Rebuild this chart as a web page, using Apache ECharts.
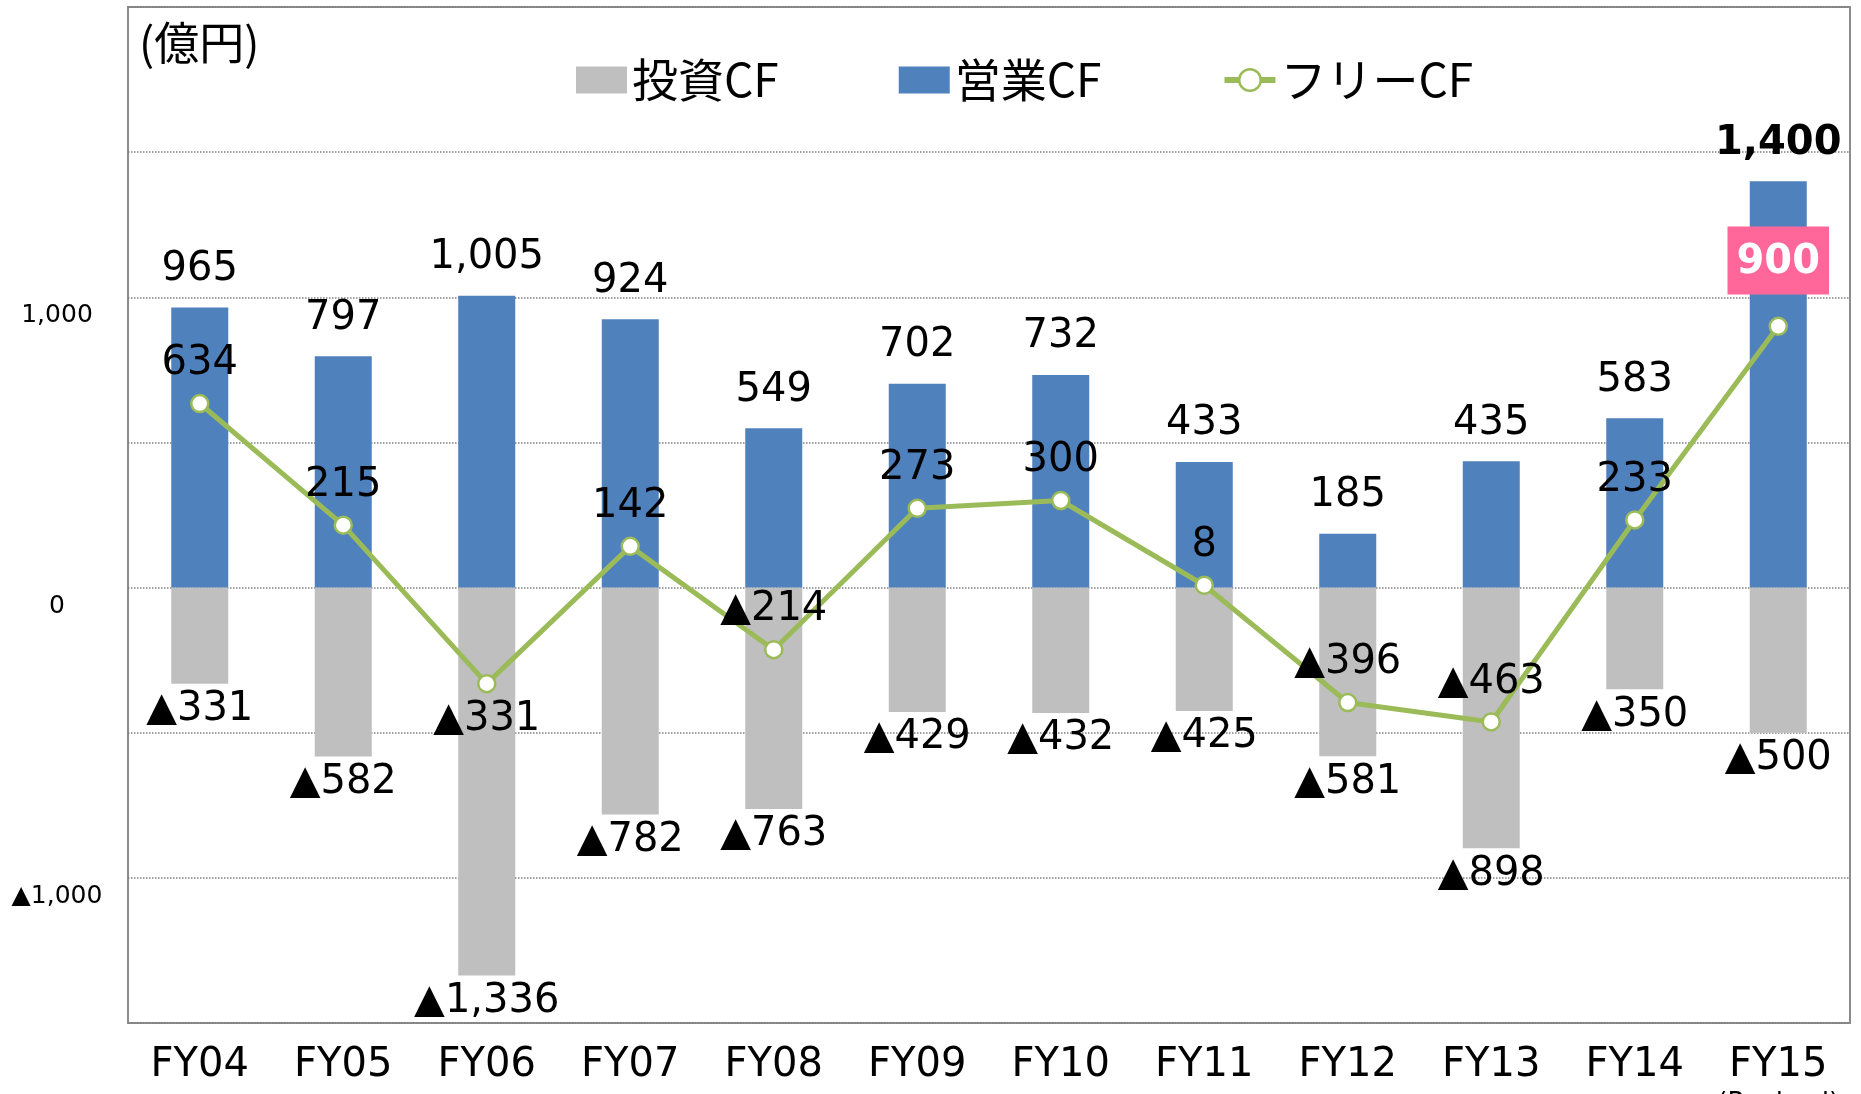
<!DOCTYPE html>
<html>
<head>
<meta charset="utf-8">
<title>キャッシュフロー推移</title>
<script src="https://cdn.jsdelivr.net/npm/echarts@6/dist/echarts.min.js"></script>
<style>
  html, body { margin: 0; padding: 0; background: #fff; }
  #main { width: 1861px; height: 1094px; }
</style>
</head>
<body>
<div id="main"></div>
<script>
// 年度
const categories = ['FY04', 'FY05', 'FY06', 'FY07', 'FY08', 'FY09', 'FY10', 'FY11', 'FY12', 'FY13', 'FY14', 'FY15']
// 営業CF（億円）
const operatingCF = [965, 797, 1005, 924, 549, 702, 732, 433, 185, 435, 583, 1400]
// 投資CF（億円）
const investingCF = [-331, -582, -1336, -782, -763, -429, -432, -425, -581, -898, -350, -500]
// フリーCF（億円）
const freeCF = [634, 215, -331, 142, -214, 273, 300, 8, -396, -463, 233, 900]
// 目盛ラベルを出す値
const yTicks = [-1000, 0, 1000]

const numFont = "'DejaVu Sans', 'Noto Sans CJK JP', sans-serif"
const jpFont = "'Noto Sans CJK JP', 'DejaVu Sans', sans-serif"

// マイナスは▲表記
const fmt = v => (v < 0 ? '▲' : '') + Math.abs(v).toLocaleString('en-US')

const last = categories.length - 1

// 営業CF：最終年度だけ太字
const operatingData = operatingCF.map((v, i) =>
  i === last ? { value: v, label: { fontWeight: 'bold' } } : v
)

// フリーCF：FY06は点の下、FY15はピンクの箱
const freeData = freeCF.map((v, i) => {
  if (i === 2) return { value: v, label: { position: 'bottom', distance: 6 } }
  if (i === last) {
    return {
      value: v,
      label: {
        color: '#fff', fontWeight: 'bold', backgroundColor: '#FF6699',
        padding: [16, 9, 12, 9], distance: 22
      }
    }
  }
  return v
})

const myChart = echarts.init(document.getElementById('main'))

const option = {
  animation: false,
  textStyle: { fontFamily: numFont },
  title: {
    text: '(億円)',
    left: 134,
    top: 15,
    textStyle: { fontFamily: jpFont, fontSize: 45, fontWeight: 'normal', color: '#000' }
  },
  legend: {
    left: 571,
    top: 52,
    itemWidth: 51,
    itemHeight: 27,
    itemGap: 120,
    textStyle: { fontFamily: jpFont, fontSize: 46, color: '#000' },
    data: [
      { name: '投資CF', icon: 'rect' },
      { name: '営業CF', icon: 'rect' },
      {
        name: 'フリーCF',
        lineStyle: { width: 6, color: '#9BBB59' },
        itemStyle: { color: '#fff', borderColor: '#9BBB59', borderWidth: 2.5 }
      }
    ]
  },
  grid: {
    left: 128,
    right: 11,
    top: 7,
    bottom: 71,
    outerBoundsMode: 'none',
    containLabel: false,
    show: true,
    borderColor: '#8c8c8c',
    borderWidth: 2
  },
  xAxis: {
    type: 'category',
    data: categories,
    axisLine: { show: false },
    axisTick: { show: false },
    axisLabel: {
      interval: 0,
      margin: 20,
      fontSize: 40,
      color: '#000',
      formatter: (v, i) => i === last ? '{a|' + v + '}\n{b|(Revised)}' : '{a|' + v + '}',
      rich: {
        a: { fontSize: 40, lineHeight: 46, color: '#000', fontFamily: numFont },
        b: { fontSize: 26, lineHeight: 30, color: '#000', fontFamily: numFont }
      }
    }
  },
  yAxis: {
    type: 'value',
    min: -1500,
    max: 2000,
    interval: 500,
    axisLine: { show: false },
    axisTick: { show: false },
    splitLine: { lineStyle: { type: 'dotted', color: '#808080', width: 1.5 } },
    axisLabel: {
      fontSize: 25,
      color: '#000',
      align: 'center',
      margin: 71,
      verticalAlign: 'top',
      padding: [6, 0, 0, 0],
      formatter: v => yTicks.includes(v) ? fmt(v) : ''
    }
  },
  series: [
    {
      name: '投資CF',
      type: 'bar',
      data: investingCF,
      barWidth: 57,
      barGap: '-100%',
      itemStyle: { color: '#BFBFBF' },
      label: {
        show: true, position: 'bottom', distance: 6,
        fontSize: 40, color: '#000', formatter: p => fmt(p.value)
      }
    },
    {
      name: '営業CF',
      type: 'bar',
      data: operatingData,
      barWidth: 57,
      barGap: '-100%',
      itemStyle: { color: '#4F81BD' },
      label: {
        show: true, position: 'top', distance: 18,
        fontSize: 40, color: '#000', formatter: p => fmt(p.value)
      }
    },
    {
      name: 'フリーCF',
      type: 'line',
      data: freeData,
      symbol: 'circle',
      symbolSize: 17,
      lineStyle: { color: '#9BBB59', width: 5 },
      itemStyle: { color: '#fff', borderColor: '#9BBB59', borderWidth: 2.5 },
      label: {
        show: true, position: 'top', distance: 10,
        fontSize: 40, color: '#000', formatter: p => fmt(p.value)
      },
      z: 5
    }
  ]
}

myChart.setOption(option)
window.onresize = () => {
  myChart.resize()
}
</script>
</body>
</html>
